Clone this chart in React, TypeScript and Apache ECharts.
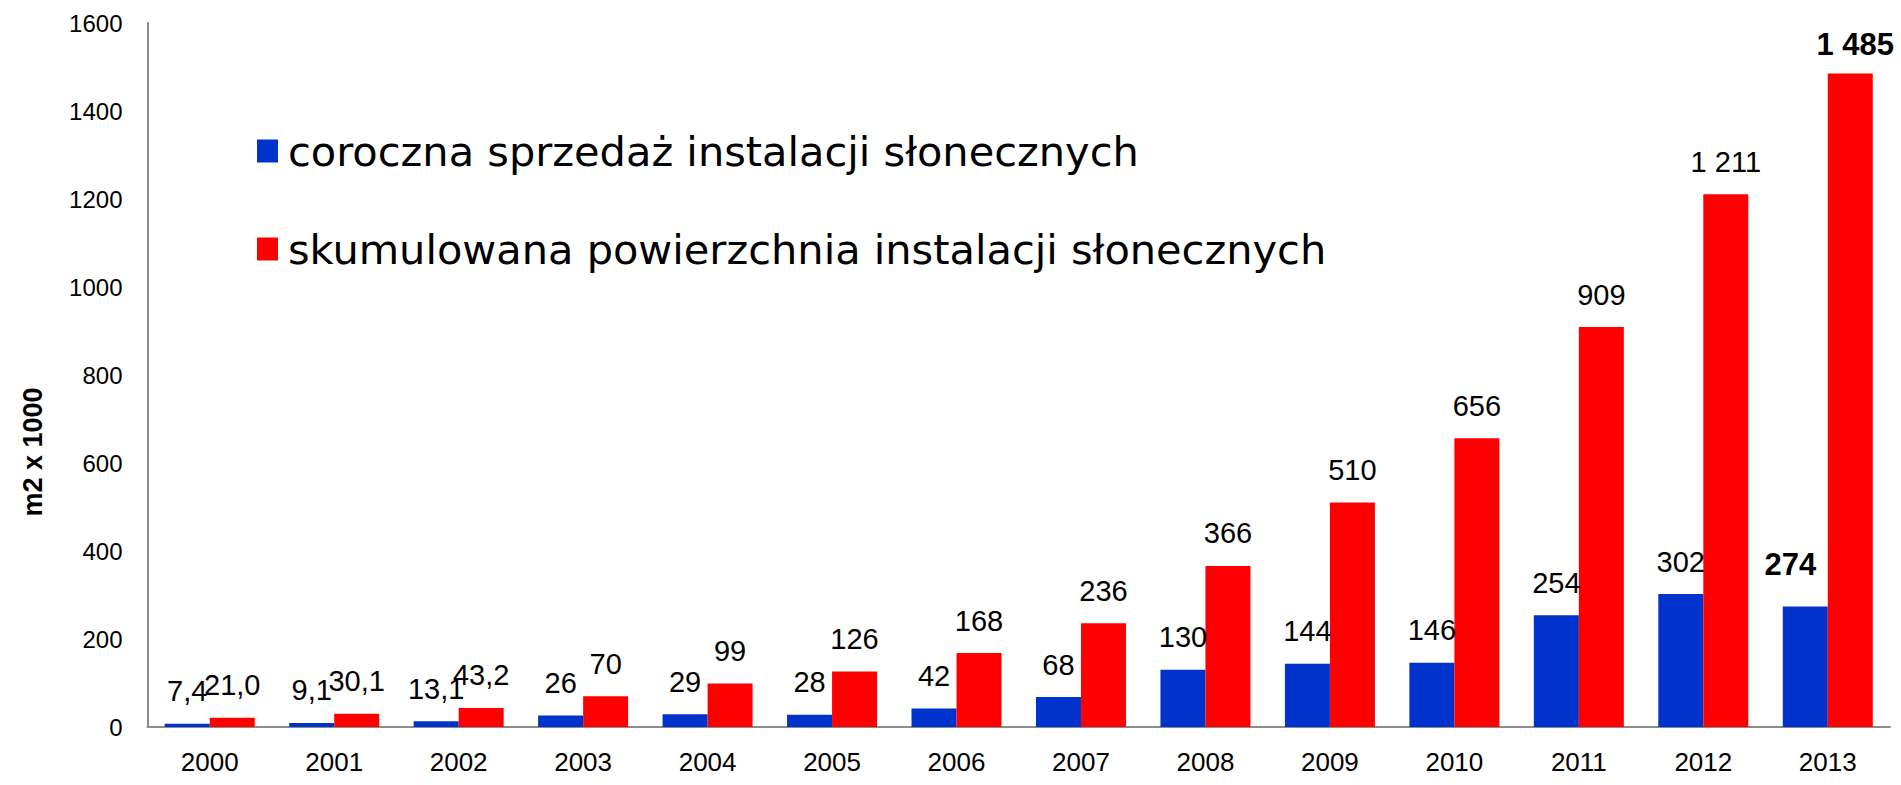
import React, { useEffect, useRef } from "react";
import * as echarts from "echarts";

const years = ["2000", "2001", "2002", "2003", "2004", "2005", "2006", "2007", "2008", "2009", "2010", "2011", "2012", "2013"];
const annualSales = [7.4, 9.1, 13.1, 26, 29, 28, 42, 68, 130, 144, 146, 254, 302, 274];
const cumulativeArea = [21.0, 30.1, 43.2, 70, 99, 126, 168, 236, 366, 510, 656, 909, 1211, 1485];
const seriesNames = ["coroczna sprzedaż instalacji słonecznych", "skumulowana powierzchnia instalacji słonecznych"];
const yAxisTitle = "m2 x 1000";
const decimalYears = 3;

const NUM_FONT = "Liberation Sans";
const TEXT_FONT = "DejaVu Sans";

function fmt(v: number, idx: number): string {
  if (idx < decimalYears) return v.toFixed(1).replace(".", ",");
  const s = Math.round(v).toString();
  return s.replace(/\B(?=(\d{3})+(?!\d))/g, " ");
}

export default function App() {
  const ref = useRef<HTMLDivElement>(null);
  useEffect(() => {
    if (!ref.current) return;
    const chart = echarts.init(ref.current, undefined, { renderer: "svg" });
    const last = years.length - 1;
    const labelBase = {
      show: true,
      position: "top",
      distance: 18,
      color: "#000",
      fontFamily: NUM_FONT,
      fontSize: 29,
      formatter: (p: any) => fmt(p.value, p.dataIndex),
    };
    chart.setOption({
      animation: false,
      textStyle: { fontFamily: NUM_FONT },
      grid: { left: 147.5, right: 11, top: 23, bottom: 58, containLabel: false },
      legend: {
        orient: "vertical",
        left: 257,
        top: 127,
        padding: 0,
        itemWidth: 21,
        itemHeight: 23,
        itemGap: 50,
        icon: "rect",
        selectedMode: false,
        textStyle: { fontFamily: TEXT_FONT, fontSize: 41.5, color: "#000", lineHeight: 48, padding: [0, 0, 0, 5] },
        data: seriesNames,
      },
      xAxis: {
        type: "category",
        data: years,
        axisLine: { show: true, lineStyle: { color: "#8c8c8c", width: 2 } },
        axisTick: { show: false },
        axisLabel: { color: "#000", fontFamily: NUM_FONT, fontSize: 26, margin: 22 },
        splitLine: { show: false },
      },
      yAxis: {
        type: "value",
        min: 0,
        max: 1600,
        interval: 200,
        axisLine: { show: true, lineStyle: { color: "#8c8c8c", width: 2 } },
        axisTick: { show: false },
        axisLabel: {
          color: "#000",
          fontFamily: NUM_FONT,
          fontSize: 24,
          margin: 25,
          formatter: (v: number) => String(v),
        },
        splitLine: { show: false },
      },
      graphic: [
        {
          type: "text",
          x: 32.5,
          y: 452,
          rotation: Math.PI / 2,
          style: {
            text: yAxisTitle,
            fontFamily: NUM_FONT,
            fontSize: 27,
            fontWeight: "bold",
            fill: "#000",
            align: "center",
            verticalAlign: "middle",
          },
        },
      ],
      series: [
        {
          name: seriesNames[0],
          type: "bar",
          barWidth: 45,
          barGap: "0%",
          itemStyle: { color: "#0033CC" },
          label: labelBase,
          data: annualSales.map((v, i) =>
            i === last
              ? { value: v, label: { fontWeight: "bold", fontSize: 31, offset: [-15, -8] } }
              : v
          ),
        },
        {
          name: seriesNames[1],
          type: "bar",
          barWidth: 45,
          barGap: "0%",
          itemStyle: { color: "#FF0000" },
          label: labelBase,
          data: cumulativeArea.map((v, i) =>
            i === last ? { value: v, label: { fontWeight: "bold", fontSize: 31, offset: [5, 4] } } : v
          ),
        },
      ],
    });
    return () => chart.dispose();
  }, []);
  return <div ref={ref} style={{ position: "absolute", left: 0, top: 0, width: 1901, height: 785 }} />;
}
